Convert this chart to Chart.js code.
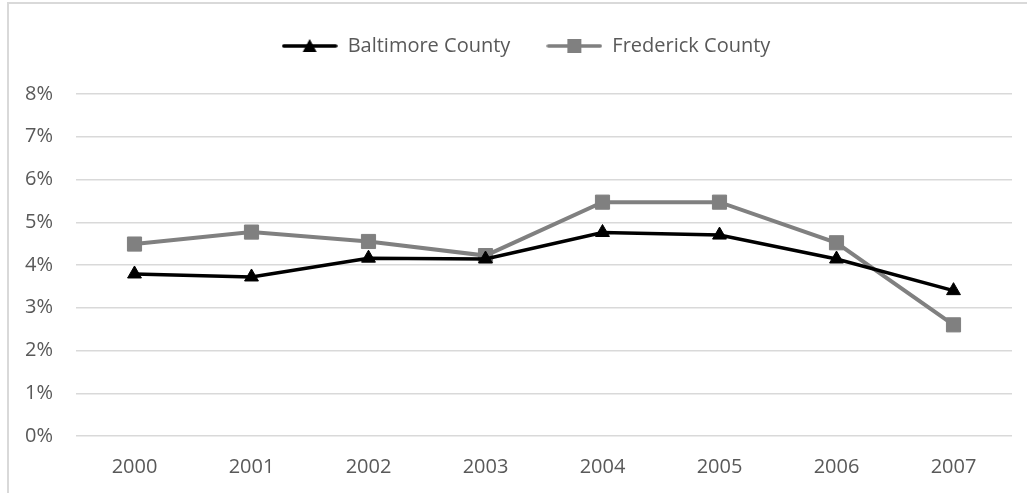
<!DOCTYPE html>
<html>
<head>
<meta charset="utf-8">
<script src="https://cdn.jsdelivr.net/npm/chart.js@4/dist/chart.umd.min.js"></script>
<style>
  html, body { margin: 0; padding: 0; background: #fff; }
  #frame { position: absolute; left: 7px; top: 2px; width: 1100px; height: 600px;
           border-left: 2px solid #d9d9d9; border-top: 2px solid #d9d9d9; }
  #wrap { position: absolute; left: 0; top: 0; width: 1027px; height: 493px; }
</style>
</head>
<body>
<div id="frame"></div>
<div id="wrap"><canvas id="chart"></canvas></div>
<script>
const years = ['2000', '2001', '2002', '2003', '2004', '2005', '2006', '2007'];
const baltimore = [3.79, 3.72, 4.16, 4.14, 4.76, 4.70, 4.14, 3.40];
const frederick = [4.49, 4.77, 4.55, 4.22, 5.47, 5.47, 4.52, 2.60];

const FONT = '"Open Sans", Lato, sans-serif';
const TEXT = '#595959';
const SIZE = 20;

// legend swatch: a line with the marker in the middle, like Excel
function swatch(color, marker) {
  const c = document.createElement('canvas');
  c.width = 56; c.height = 16;
  const g = c.getContext('2d');
  g.strokeStyle = color; g.lineWidth = 3.5; g.lineCap = 'round';
  g.beginPath(); g.moveTo(2, 8); g.lineTo(54, 8); g.stroke();
  g.fillStyle = color;
  if (marker === 'triangle') {
    g.beginPath(); g.moveTo(28, 1); g.lineTo(35, 14); g.lineTo(21, 14); g.closePath(); g.fill();
  } else {
    g.fillRect(21, 1, 14, 14);
  }
  return c;
}

// legend sits a bit right of centre and well above the plot, as in the original
const legendExtra = 28;
const legendShift = 20;
const legendGap = {
  id: 'legendGap',
  beforeInit(chart) {
    const fit = chart.legend.fit;
    chart.legend.fit = function () {
      fit.bind(chart.legend)();
      this.height += legendExtra;
    };
  },
  afterLayout(chart) {
    chart.legend.left += legendShift;
    chart.legend.right += legendShift;
  }
};

new Chart(document.getElementById('chart'), {
  type: 'line',
  data: {
    labels: years,
    datasets: [{
      label: 'Baltimore County',
      data: baltimore,
      borderColor: '#000000',
      backgroundColor: '#000000',
      borderWidth: 3.5,
      pointStyle: 'triangle',
      pointRadius: 8,
      pointBorderWidth: 1,
      tension: 0
    }, {
      label: 'Frederick County',
      data: frederick,
      borderColor: '#808080',
      backgroundColor: '#808080',
      borderWidth: 4,
      pointStyle: 'rect',
      pointRadius: 10,
      pointBorderWidth: 1,
      tension: 0
    }]
  },
  options: {
    responsive: true,
    maintainAspectRatio: false,
    animation: false,
    layout: { padding: { left: 0, right: 15, top: 0, bottom: 0 } },
    plugins: {
      tooltip: { enabled: false },
      legend: {
        position: 'top',
        labels: {
          usePointStyle: true,
          pointStyleWidth: 56,
          padding: 36,
          color: TEXT,
          font: { family: FONT, size: SIZE },
          generateLabels: (chart) => chart.data.datasets.map((ds, i) => ({
            text: ds.label,
            fontColor: TEXT,
            pointStyle: swatch(ds.borderColor, ds.pointStyle),
            datasetIndex: i,
            lineWidth: 0,
            hidden: false
          }))
        }
      }
    },
    scales: {
      x: {
        offset: true,
        grid: { display: false, drawTicks: false },
        border: { display: false },
        ticks: { color: TEXT, font: { family: FONT, size: SIZE }, padding: 19 },
        afterFit: (s) => { s.height = 57; }
      },
      y: {
        min: 0,
        max: 8,
        grid: { color: '#d9d9d9', lineWidth: 1.5, drawTicks: false },
        border: { display: false },
        ticks: {
          stepSize: 1,
          color: TEXT,
          font: { family: FONT, size: SIZE },
          padding: 23,
          callback: (v) => v + '%'
        },
        afterFit: (s) => { s.width = 76; }
      }
    }
  },
  plugins: [legendGap]
});
</script>
</body>
</html>
